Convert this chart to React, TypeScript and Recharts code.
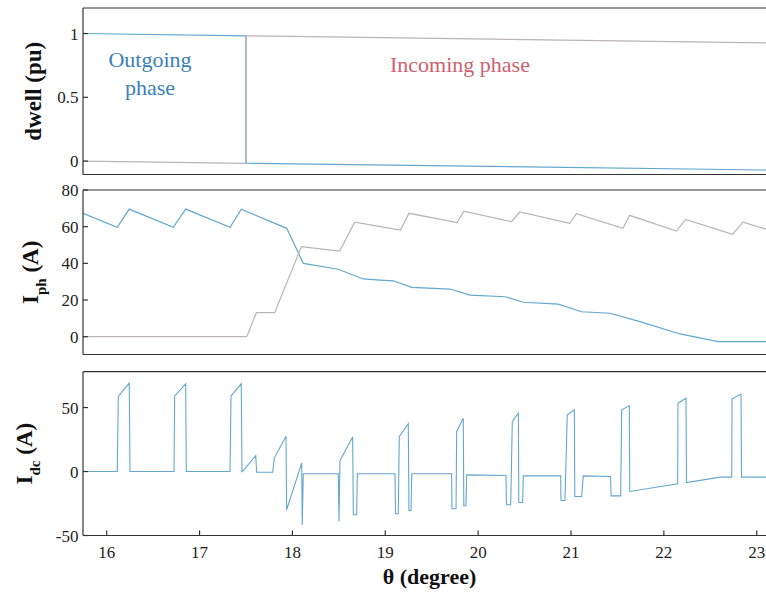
import { LineChart, Line, XAxis, YAxis, ReferenceDot } from 'recharts'

const SERIF = '"Liberation Serif", "DejaVu Serif", serif'
const BLUE = '#63a7cf'
const GREY = '#bab3b7'
const FRAME = { stroke: '#333', strokeWidth: 1.2 }

const thetaTicks = [16, 17, 18, 19, 20, 21, 22, 23]
const thetaRange = [15.745, 23.1]

const dwellTicks = [0, 0.5, 1]
const iphTicks = [0, 20, 40, 60, 80]
const idcTicks = [-50, 0, 50]

// [theta (degree), value]
const dwellOutgoing = [
  [15.745, 1], [17.5, 0.982], [17.5, -0.017], [23.1, -0.07],
]
const dwellIncoming = [
  [15.745, 0], [17.5, -0.017], [17.5, 0.982], [23.1, 0.926],
]

const iphOutgoing = [
  [15.745, 67.3], [16.114, 59.7], [16.243, 69.6], [16.717, 59.7], [16.851, 69.6],
  [17.328, 59.7], [17.45, 69.5], [17.939, 59.1], [18.117, 40.0], [18.494, 36.8],
  [18.763, 31.5], [18.943, 30.9], [19.087, 30.5], [19.285, 26.9], [19.697, 26.0],
  [19.913, 22.7], [20.289, 21.8], [20.486, 18.8], [20.863, 17.8], [21.115, 13.6],
  [21.42, 12.8], [21.743, 8.2], [22.174, 1.5], [22.586, -2.7], [23.1, -2.7],
]
const iphIncoming = [
  [15.745, 0], [17.508, 0], [17.612, 13.1], [17.809, 13.1], [18.097, 49.1],
  [18.509, 46.7], [18.671, 62.4], [19.163, 58.2], [19.256, 67.3], [19.773, 62.2],
  [19.845, 68.4], [20.358, 62.7], [20.448, 68.0], [20.986, 61.8], [21.058, 67.1],
  [21.56, 59.1], [21.632, 66.2], [22.135, 57.6], [22.235, 64.0], [22.738, 55.8],
  [22.852, 62.5], [23.1, 58.6],
]

const idc = [
  [15.745, 0], [16.114, 0], [16.125, 58.6], [16.243, 69.1], [16.251, 0],
  [16.725, 0], [16.732, 59.1], [16.851, 68.5], [16.857, 0],
  [17.328, 0], [17.339, 59.1], [17.449, 68.5], [17.457, 0],
  [17.471, 0.8], [17.605, 12.3], [17.615, -0.6], [17.788, -0.6], [17.805, 10.5],
  [17.931, 27.6], [17.938, -29.9], [18.1, 6.6], [18.106, -41.6], [18.117, -1.8],
  [18.494, -1.8], [18.502, -39.1], [18.512, 8.4], [18.649, 26.9], [18.656, -33.8],
  [18.692, -33.8], [18.699, -1.8],
  [19.105, -1.8], [19.11, -33], [19.14, -33], [19.151, 27.3], [19.248, 37.3],
  [19.255, -30.5], [19.277, -30.5], [19.285, -1.8],
  [19.715, -1.8], [19.718, -29.1], [19.762, -29.1], [19.769, 31.3], [19.84, 41.7],
  [19.846, -26.8], [19.869, -26.8], [19.877, -2.6],
  [20.3, -3.1], [20.305, -26], [20.351, -26], [20.368, 39.1], [20.433, 45.6],
  [20.438, -24.2], [20.48, -24.2], [20.486, -3.4],
  [20.889, -3.4], [20.892, -22.7], [20.935, -22.7], [20.96, 44.3], [21.036, 48.2],
  [21.041, -19.5], [21.115, -19.5], [21.132, -3.4],
  [21.427, -3.9], [21.431, -19], [21.535, -19], [21.546, 48.2], [21.628, 51.3],
  [21.633, -15.6], [22.149, -9.6], [22.152, 53.4], [22.238, 57.3], [22.244, -8.6],
  [22.605, -4.4], [22.731, -4.4], [22.734, 56.6], [22.831, 60.5], [22.836, -4.4],
  [23.1, -4.4],
]

const noteOutgoing = ['Outgoing', 'phase']
const noteIncoming = ['Incoming phase']

const rows = (pts: number[][]) => pts.map(([t, v]) => ({ t, v }))

function AxisTitle({ viewBox, main, sub, rest, baseX }: any) {
  const cy = viewBox.y + viewBox.height / 2
  return (
    <text
      x={baseX}
      y={cy}
      transform={`rotate(-90 ${baseX} ${cy})`}
      textAnchor='middle'
      fontFamily={SERIF}
      fontWeight='bold'
      fontSize={23}
      fill='#111'
    >
      {main}
      {sub && (
        <tspan dy={8} fontSize={15}>
          {sub}
        </tspan>
      )}
      {sub ? <tspan dy={-8}>{rest}</tspan> : rest}
    </text>
  )
}

function XTitle({ viewBox }: any) {
  return (
    <text
      x={viewBox.x + viewBox.width / 2 + 5}
      y={viewBox.y + 48.5}
      textAnchor='middle'
      fontFamily={SERIF}
      fontWeight='bold'
      fontSize={22}
      fill='#111'
    >
      θ (degree)
    </text>
  )
}

function PhaseNote({ viewBox, lines, color, anchor }: any) {
  const x = viewBox.x + viewBox.width / 2
  const y = viewBox.y + viewBox.height / 2
  return (
    <text x={x} y={y} fill={color} fontFamily={SERIF} fontSize={22} textAnchor={anchor}>
      {lines.map((l: string, i: number) => (
        <tspan key={i} x={x} dy={i === 0 ? 0 : 28}>
          {l}
        </tspan>
      ))}
    </text>
  )
}

const tickFont = { fontSize: 17, fill: '#222', fontFamily: SERIF }

// axes get a 1px band (zero-sized axes are not drawn), margins are trimmed to match
function frameAxes(xLabels: boolean) {
  return [
    <XAxis
      key='xb'
      xAxisId='b'
      dataKey='t'
      type='number'
      domain={thetaRange}
      allowDataOverflow
      ticks={thetaTicks}
      interval={0}
      height={1}
      tickSize={-5}
      tickMargin={15}
      axisLine={FRAME}
      tickLine={FRAME}
      tick={xLabels ? tickFont : false}
      label={xLabels ? <XTitle /> : undefined}
    />,
    <XAxis
      key='xt'
      xAxisId='t'
      orientation='top'
      dataKey='t'
      type='number'
      domain={thetaRange}
      allowDataOverflow
      ticks={thetaTicks}
      interval={0}
      height={1}
      tickSize={-5}
      axisLine={FRAME}
      tickLine={FRAME}
      tick={false}
    />,
  ]
}

function yAxis(domain: number[], ticks: number[], title: any) {
  return (
    <YAxis
      type='number'
      domain={domain}
      allowDataOverflow
      ticks={ticks}
      interval={0}
      width={1}
      tickSize={-5}
      tickMargin={9.5}
      axisLine={FRAME}
      tickLine={FRAME}
      tick={tickFont}
      label={title}
    />
  )
}

export default function App() {
  return (
    <div
      style={{
        position: 'absolute',
        left: 0,
        top: 0,
        width: 766,
        height: 593,
        overflow: 'hidden',
        background: '#fff',
      }}
    >
      <div style={{ position: 'absolute', left: 0, top: 0 }}>
        <LineChart width={766} height={182} margin={{ top: 7, right: 0, bottom: 6.5, left: 82 }}>
          {frameAxes(false)}
          {yAxis([-0.105, 1.2], dwellTicks, <AxisTitle main='dwell (pu)' baseX={41} />)}
          <Line xAxisId='b' data={rows(dwellOutgoing)} dataKey='v' stroke={BLUE} strokeWidth={1.2} dot={false} isAnimationActive={false} />
          <Line xAxisId='b' data={rows(dwellIncoming)} dataKey='v' stroke={GREY} strokeWidth={1.2} dot={false} isAnimationActive={false} />
          <ReferenceDot xAxisId='b' x={16.467} y={0.736} r={1} fill='none' stroke='none' label={<PhaseNote lines={noteOutgoing} color='#3b80b8' anchor='middle' />} />
          <ReferenceDot xAxisId='b' x={19.051} y={0.699} r={1} fill='none' stroke='none' label={<PhaseNote lines={noteIncoming} color='#cf5f70' anchor='start' />} />
        </LineChart>
      </div>
      <div style={{ position: 'absolute', left: 0, top: 182 }}>
        <LineChart width={766} height={182} margin={{ top: 7, right: 0, bottom: 8.5, left: 82 }}>
          {frameAxes(false)}
          {yAxis([-9.7, 80], iphTicks, <AxisTitle main='I' sub='ph' rest=' (A)' baseX={38.3} />)}
          <Line xAxisId='b' data={rows(iphOutgoing)} dataKey='v' stroke={BLUE} strokeWidth={1.2} dot={false} isAnimationActive={false} />
          <Line xAxisId='b' data={rows(iphIncoming)} dataKey='v' stroke={GREY} strokeWidth={1.2} dot={false} isAnimationActive={false} />
        </LineChart>
      </div>
      <div style={{ position: 'absolute', left: 0, top: 364 }}>
        <LineChart width={766} height={229} margin={{ top: 6.7, right: 0, bottom: 56.5, left: 82 }}>
          {frameAxes(true)}
          {yAxis([-50, 78], idcTicks, <AxisTitle main='I' sub='dc' rest=' (A)' baseX={31.7} />)}
          <Line xAxisId='b' data={rows(idc)} dataKey='v' stroke={BLUE} strokeWidth={1.1} dot={false} isAnimationActive={false} />
        </LineChart>
      </div>
    </div>
  )
}
